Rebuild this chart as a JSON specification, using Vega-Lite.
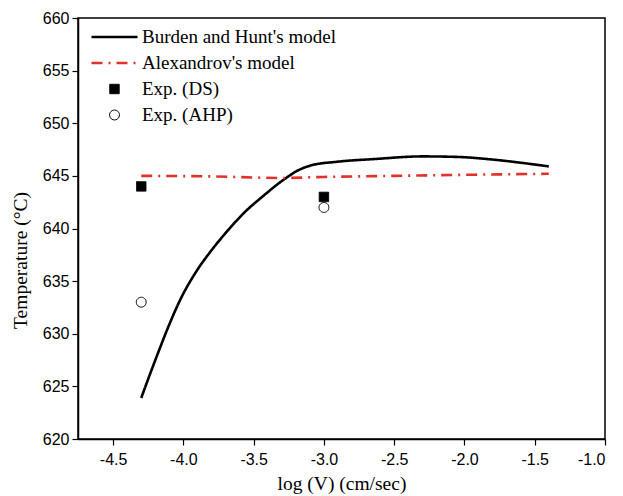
{
  "$schema": "https://vega.github.io/schema/vega-lite/v6.json",
  "autosize": "none",
  "width": 527,
  "height": 421,
  "padding": {"left": 78, "top": 18, "right": 18, "bottom": 57},
  "background": "white",
  "config": {
    "view": {"stroke": "black", "strokeWidth": 1.5},
    "axis": {
      "grid": false, "labelColor": "black", "titleColor": "black",
      "labelFont": "Liberation Sans", "labelFontSize": 16,
      "titleFont": "Liberation Serif", "titleFontSize": 19.5, "titleFontWeight": "normal"
    },
    "legend": {"symbolSize": 2116}
  },
  "data": {"values": [
    {"series": "Burden and Hunt's model", "x": -4.30, "y": 623.9},
    {"series": "Burden and Hunt's model", "x": -4.245, "y": 625.9},
    {"series": "Burden and Hunt's model", "x": -4.174, "y": 628.4},
    {"series": "Burden and Hunt's model", "x": -4.103, "y": 630.8},
    {"series": "Burden and Hunt's model", "x": -4.02, "y": 633.3},
    {"series": "Burden and Hunt's model", "x": -3.914, "y": 635.8},
    {"series": "Burden and Hunt's model", "x": -3.796, "y": 638.0},
    {"series": "Burden and Hunt's model", "x": -3.678, "y": 639.9},
    {"series": "Burden and Hunt's model", "x": -3.56, "y": 641.6},
    {"series": "Burden and Hunt's model", "x": -3.44, "y": 643.0},
    {"series": "Burden and Hunt's model", "x": -3.28, "y": 644.7},
    {"series": "Burden and Hunt's model", "x": -3.18, "y": 645.55},
    {"series": "Burden and Hunt's model", "x": -3.09, "y": 646.0},
    {"series": "Burden and Hunt's model", "x": -2.90, "y": 646.35},
    {"series": "Burden and Hunt's model", "x": -2.64, "y": 646.6},
    {"series": "Burden and Hunt's model", "x": -2.30, "y": 646.85},
    {"series": "Burden and Hunt's model", "x": -2.05, "y": 646.8},
    {"series": "Burden and Hunt's model", "x": -1.80, "y": 646.55},
    {"series": "Burden and Hunt's model", "x": -1.60, "y": 646.25},
    {"series": "Burden and Hunt's model", "x": -1.40, "y": 645.9},
    {"series": "Alexandrov's model", "x": -4.30, "y": 645.0},
    {"series": "Alexandrov's model", "x": -3.80, "y": 644.95},
    {"series": "Alexandrov's model", "x": -3.30, "y": 644.8},
    {"series": "Alexandrov's model", "x": -3.00, "y": 644.9},
    {"series": "Alexandrov's model", "x": -2.50, "y": 645.0},
    {"series": "Alexandrov's model", "x": -2.00, "y": 645.1},
    {"series": "Alexandrov's model", "x": -1.40, "y": 645.2},
    {"series": "Exp. (DS)", "x": -4.3, "y": 644},
    {"series": "Exp. (DS)", "x": -3.0, "y": 643},
    {"series": "Exp. (AHP)", "x": -4.3, "y": 633},
    {"series": "Exp. (AHP)", "x": -3.0, "y": 642}
  ]},
  "encoding": {
    "stroke": {"field": "series", "type": "nominal",
      "scale": {"domain": ["Burden and Hunt's model", "Alexandrov's model", "Exp. (DS)", "Exp. (AHP)"],
                "range": ["black", "#e2312a", "black", "black"]},
      "legend": {"title": null, "orient": "none", "legendX": 12, "legendY": 10,
        "labelFont": "Liberation Serif", "labelFontSize": 19, "labelColor": "black", "labelLimit": 400,
        "labelOffset": 3, "rowPadding": 7, "clipHeight": 18, "padding": 0}},
    "strokeDash": {"field": "series", "type": "nominal",
      "scale": {"domain": ["Burden and Hunt's model", "Alexandrov's model", "Exp. (DS)", "Exp. (AHP)"],
                "range": [[1,0],[11,6,2,6],[1,0],[1,0]]}, "legend": {"title": null}},
    "strokeWidth": {"field": "series", "type": "nominal",
      "scale": {"type": "ordinal", "domain": ["Burden and Hunt's model", "Alexandrov's model", "Exp. (DS)", "Exp. (AHP)"],
                "range": [2.6, 2.6, 1, 1]}, "legend": {"title": null}},
    "fill": {"field": "series", "type": "nominal",
      "scale": {"domain": ["Burden and Hunt's model", "Alexandrov's model", "Exp. (DS)", "Exp. (AHP)"],
                "range": ["transparent", "transparent", "black", "white"]}, "legend": {"title": null}}
  },
  "layer": [
    {
      "transform": [{"filter": "indexof(datum.series, 'model') >= 0"}],
      "mark": {"type": "line", "interpolate": "monotone"},
      "encoding": {
        "x": {"field": "x", "type": "quantitative",
          "scale": {"domain": [-4.75, -1.0], "nice": false, "zero": false},
          "axis": {"orient": "bottom", "title": "log (V) (cm/sec)",
            "domain": true, "domainColor": "black", "domainWidth": 1.5,
            "ticks": true, "tickColor": "black", "tickWidth": 1.2, "tickOpacity": 1, "tickSize": 6,
            "values": [-4.5,-4.0,-3.5,-3.0,-2.5,-2.0,-1.5,-1.0],
            "labelPadding": 6,
            "labelExpr": "replace(format(datum.value, '.1f'), '\u2212', '-')",
            "titlePadding": 7}},
        "y": {"field": "y", "type": "quantitative",
          "scale": {"domain": [620, 660], "nice": false, "zero": false},
          "axis": {"orient": "left", "title": "Temperature (\u00b0C)",
            "domain": true, "domainColor": "black", "domainWidth": 1.5,
            "ticks": true, "tickColor": "black", "tickWidth": 1.2, "tickOpacity": 1, "tickSize": 6,
            "values": [620,625,630,635,640,645,650,655,660],
            "labelPadding": 3,
            "labelExpr": "format(datum.value, 'd')",
            "titlePadding": 12, "titleY": 242}}
      }
    },
    {
      "transform": [{"filter": "indexof(datum.series, 'Exp') >= 0"}],
      "mark": {"type": "point", "filled": false, "opacity": 1, "size": 2116},
      "encoding": {
        "shape": {"field": "series", "type": "nominal",
          "scale": {"domain": ["Burden and Hunt's model", "Alexandrov's model", "Exp. (DS)", "Exp. (AHP)"],
                    "range": ["M-1,0L1,0", "M-1,0L1,0",
                              "M-0.205,-0.205L0.205,-0.205L0.205,0.205L-0.205,0.205Z",
                              "M0.215,0A0.215,0.215,0,1,1,-0.215,0A0.215,0.215,0,1,1,0.215,0Z"]}, "legend": {"title": null}},
        "x": {"field": "x", "type": "quantitative"},
        "y": {"field": "y", "type": "quantitative"}
      }
    }
  ]
}
